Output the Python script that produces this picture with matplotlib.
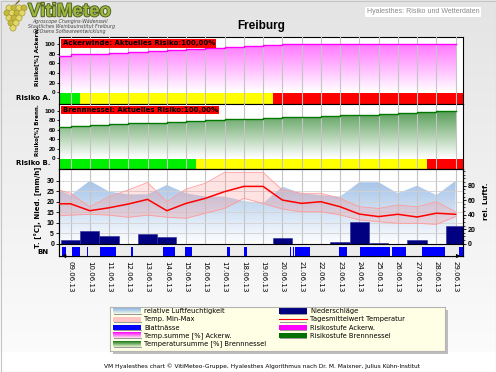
"""
VitiMeteo Hyalesthes-Diagramm Freiburg: Risiko Ackerwinde / Brennnessel und Wetterdaten.
Werte vom Bild abgelesen.
"""
import numpy as np
import matplotlib
matplotlib.use("Agg")
import matplotlib.pyplot as plt
import matplotlib.patheffects as pe
from matplotlib.patches import Rectangle, Circle
from matplotlib.colors import to_rgb, LinearSegmentedColormap
from matplotlib.ticker import FixedLocator

# ---------------- Daten ----------------
tage = ["09.06.13", "10.06.13", "11.06.13", "12.06.13", "13.06.13", "14.06.13",
        "15.06.13", "16.06.13", "17.06.13", "18.06.13", "19.06.13", "20.06.13",
        "21.06.13", "22.06.13", "23.06.13", "24.06.13", "25.06.13", "26.06.13",
        "27.06.13", "28.06.13", "29.06.13"]

# Zeit in Tagen ab 09.06.13 (erster Wert = Beginn der Reihe am 08.06.)
zeit = [-0.6, 0, 1, 2, 3, 4, 5, 6, 7, 8, 9, 10, 11, 12, 13, 14, 15, 16, 17, 18, 19, 20]

tsum_acker = [76, 78.5, 80.5, 82, 83.3, 85.4, 86.8, 88.9, 91, 93.5, 96.5, 98.5,
              100, 100, 100, 100, 100, 100, 100, 100, 100, 100]
tsum_brenn = [66, 67.6, 69.8, 71.2, 73.2, 74.6, 76, 77.5, 80.3, 81.7, 83, 85.2,
              86, 87.4, 89.5, 90.2, 91.6, 93, 94.5, 96.6, 98.7, 98.7]

tmittel = [19.0, 19.0, 15.7, 17.1, 18.9, 21.1, 15.7, 19.2, 21.6, 24.8, 27.3, 27.3,
           20.8, 19.2, 20.0, 17.6, 14.1, 12.9, 14.0, 12.7, 14.5, 14.0]
tmax = [25.6, 24.0, 17.6, 22.4, 25.6, 29.2, 20.0, 26.0, 28.8, 34.0, 34.0, 34.0,
        25.6, 24.0, 24.0, 21.6, 17.6, 16.8, 18.4, 17.6, 20.0, 15.2]
tmin = [13.3, 13.6, 14.0, 13.6, 12.6, 13.6, 12.6, 12.1, 14.5, 16.8, 21.6, 19.2,
        16.5, 15.2, 15.2, 13.7, 11.3, 10.5, 9.7, 9.7, 9.2, 12.9]
luftfeuchte = [74, 67, 86.5, 72, 68, 68, 81, 69.5, 65, 65, 59, 55.7,
               78.6, 69.5, 67, 65, 84.7, 84.7, 69.5, 80, 67, 86.5]

# Tagessumme Niederschlag, ein Balken pro Tag (09.06. .. 29.06.)
niederschlag = [1.7, 6.0, 3.7, 0, 4.6, 3.0, 0, 0, 0, 0, 0, 2.9, 0, 0, 0.6, 10.5,
                0.5, 0, 1.7, 0, 8.6]

# Blattnaesse: Beginn/Ende in Tagen ab 09.06.
bn_beginn = [-0.42, 0.10, 0.83, 1.52, 3.14, 4.82, 5.94, 8.11, 9.03, 11.40, 11.54,
             11.66, 13.95, 15.04, 16.69, 18.25, 20.16]
bn_ende = [-0.26, 0.48, 0.90, 2.34, 3.26, 5.42, 6.32, 8.28, 9.15, 11.46, 11.60,
           12.44, 14.35, 16.57, 17.44, 19.43, 20.4]

# Risikostufen (1 gruen, 2 gelb, 3 rot): Beginn jeder Stufe
risiko_a_beginn = [-0.6, 0.5, 10.5]
risiko_a_stufe = [1, 2, 3]
risiko_b_beginn = [-0.6, 6.5, 18.5]
risiko_b_stufe = [1, 2, 3]
ende = 20.4

RISIKO_FARBEN = {1: "#00ee00", 2: "#ffff00", 3: "#ff0000"}

W, H = 496, 372


def fx(x):
    return x / W


def fy(y):
    return 1 - y / H


def verlauf(ax, xs, ys, farbe, y_oben, a_max, z=1):
    # Flaeche mit Farbverlauf (oben Farbe, unten weiss)
    rgba = np.zeros((256, 1, 4))
    rgba[..., :3] = to_rgb(farbe)
    rgba[:, 0, 3] = np.linspace(0, a_max, 256)
    poly = ax.fill(np.r_[xs[0], xs, xs[-1]], np.r_[0, ys, 0],
                   facecolor="none", edgecolor="none")[0]
    im = ax.imshow(rgba, extent=[xs[0], xs[-1], 0, y_oben], origin="lower",
                   aspect="auto", zorder=z, interpolation="bilinear")
    im.set_clip_path(poly)


def ticks_fett(ax):
    for t in ax.get_yticklabels():
        t.set_fontweight("bold")
        t.set_family("Liberation Sans")


fig = plt.figure(figsize=(W / 100, H / 100), dpi=100)

# ---------------- Hintergrund / Logo ----------------
bg = fig.add_axes([0, 0, 1, 1], zorder=-10)
bg.set_xlim(0, W)
bg.set_ylim(H, 0)
bg.axis("off")
cmap_bg = LinearSegmentedColormap.from_list("bg", ["#e4e4e4", "#fbfbfb"])
bg.imshow(np.linspace(0, 1, 100)[:, None], cmap=cmap_bg, extent=[0, W, 352, 0],
          aspect="auto", vmin=0, vmax=1)
bg.add_patch(Rectangle((0.5, 0.5), W - 1, H - 1, fill=False, ec="#c4c4c4", lw=0.8))
# Schatten der Legende
bg.add_patch(Rectangle((112.5, 309.5), 335, 44.3, fc="#bdbdbd", ec="none"))

# Traube
for j, (yy, xs_) in enumerate([(8, [9, 14, 19, 24]), (13, [7, 12, 17, 22]),
                               (18, [9, 14, 19]), (23, [11, 16]), (28, [13])]):
    for k, xx in enumerate(xs_):
        bg.add_patch(Circle((xx, yy), 3.1, fc=["#e2d86a", "#c4b83e"][(j + k) % 2],
                            ec="#9c8e28", lw=0.4))
bg.plot([16, 19], [4, 1], color="#7a6a30", lw=1)

fig.text(fx(28), fy(16.3), "VitiMeteo", fontsize=13.5, fontweight="bold",
         family="Liberation Sans", color="#9ab83c", va="baseline",
         path_effects=[pe.withStroke(linewidth=1.3, foreground="#4e5c22")])
for txt, xc, yc in [("Agroscope Changins-Wädenswil", 70, 21.3),
                    ("Staatliches Weinbauinstitut Freiburg", 72, 26.6),
                    ("GEOsens Softwareentwicklung", 69, 32)]:
    fig.text(fx(xc), fy(yc), txt, fontsize=3.4, style="italic", color="#444444",
             ha="center", va="center")

fig.text(fx(261), fy(26), "Freiburg", fontsize=8.5, fontweight="bold",
         family="Liberation Sans", ha="center", va="center")
fig.text(fx(423), fy(11.7), "Hyalesthes: Risiko und Wetterdaten", fontsize=5,
         family="Liberation Sans", color="#8a8a8a", ha="center", va="center",
         bbox=dict(fc="white", ec="none", pad=1))

# ---------------- Panels ----------------
L, R = 59, 463.3


def panel(top, bottom):
    return fig.add_axes([fx(L), fy(bottom), (R - L) / W, (bottom - top) / H])


ax1 = panel(36.7, 103.5)
ax2 = panel(103.5, 169)
axw = panel(169, 256)

xs_step = np.repeat(zeit, 2)[1:]

for ax, tsum, farbe, gfarbe, a_max, rb, rs, titel in [
        (ax1, tsum_acker, "#ff00ff", "#ff00ff", 0.55, risiko_a_beginn, risiko_a_stufe,
         "Ackerwinde: Aktuelles Risiko:100,00%"),
        (ax2, tsum_brenn, "#007800", "#288228", 0.8, risiko_b_beginn, risiko_b_stufe,
         "Brennnessel: Aktuelles Risiko:100,00%")]:
    ys_step = np.repeat(tsum, 2)[:-1]
    verlauf(ax, xs_step, ys_step, gfarbe, 100, a_max)
    ax.step(zeit, tsum, where="post", color=farbe, lw=1.0, zorder=3)
    enden = rb[1:] + [ende]
    ax.broken_barh([(b, e - b) for b, e in zip(rb, enden)], (-23.5, 21.5),
                   facecolors=[RISIKO_FARBEN[s] for s in rs], zorder=2)
    ax.set_xlim(-0.6, ende)
    ax.set_ylim(-23.5, 115.5)
    ax.set_yticks(range(0, 101, 20))
    ax.set_xticks(range(len(tage)))
    ax.tick_params(axis="x", length=0, labelbottom=False)
    ax.tick_params(axis="y", labelsize=4.6, length=1.5, pad=1, width=0.6)
    ticks_fett(ax)
    ax.grid(axis="x", color="#c4c4c4", lw=0.8)
    ax.set_axisbelow(False)
    for s in ax.spines.values():
        s.set_linewidth(0.8)
    ax.text(0.009, 0.948, titel, transform=ax.transAxes, fontsize=5.0,
            fontweight="bold", va="top", ha="left", zorder=6,
            bbox=dict(boxstyle="square,pad=0.2", fc="#ff0000", ec="none"))

# Wetter: rel. Luftfeuchte auf axw (rechts), Temperatur/Niederschlag auf axt (links)
verlauf(axw, zeit, luftfeuchte, "#6fa0dc", 100, 0.72)
axw.set_xlim(-0.6, ende)
axw.set_ylim(-17, 103)
axt = axw.twinx()
axw.yaxis.tick_right()
axt.yaxis.tick_left()
axw.set_yticks(range(0, 81, 20))
axw.yaxis.set_minor_locator(FixedLocator(np.arange(0, 101, 5)))
axw.tick_params(axis="y", which="major", labelsize=5, length=2, pad=1.5, width=0.6)
axw.tick_params(axis="y", which="minor", length=1.2, width=0.5)
ticks_fett(axw)
axw.set_xticks(range(len(tage)))
axw.set_xticklabels(tage, rotation=-90, fontsize=5, va="top", ha="center")
axw.tick_params(axis="x", length=0, pad=3.5)
axw.grid(axis="x", color="#c4c4c4", lw=0.8)
axw.set_axisbelow(False)

axt.fill_between(zeit, tmin, tmax, color="#ff8c8c", alpha=0.25, lw=0, zorder=2)
axt.plot(zeit, tmax, color="#ff9a9a", lw=0.6, zorder=2)
axt.plot(zeit, tmin, color="#ff9a9a", lw=0.6, zorder=2)
axt.bar(range(len(niederschlag)), niederschlag, width=1.0, color="#000080",
        edgecolor="#2a2a9a", lw=0.4, zorder=3)
axt.plot(zeit, tmittel, color="#ff0000", lw=1.1, zorder=4)
axt.axhspan(-5.9, -0.6, color="#ececec", zorder=1, lw=0)
axt.broken_barh([(b, e - b) for b, e in zip(bn_beginn, bn_ende)], (-5.9, 4.5),
                facecolors="#0000ff", zorder=3)
axt.axhline(0, color="black", lw=0.8, zorder=5)
axt.set_ylim(-5.9, 35.6)
axt.set_yticks(range(0, 31, 5))
axt.tick_params(axis="y", labelsize=5, length=2, pad=1.5, width=0.6)
ticks_fett(axt)
axt.grid(axis="y", color="#d2d2d2", lw=0.6)
axt.set_axisbelow(True)
for a in (axw, axt):
    for s in a.spines.values():
        s.set_linewidth(0.8)
for x0, x1 in [(0.02, 0.0), (0.98, 1.0)]:
    axt.annotate("", xy=(x1, 0), xytext=(x0, 0), xycoords="axes fraction",
                 arrowprops=dict(arrowstyle="-|>", color="black", lw=0.8,
                                 mutation_scale=5), annotation_clip=False)

# Achsenbeschriftungen
lab = dict(fontsize=5, fontweight="bold", va="center")
fig.text(fx(37), fy(56), "Risiko[%] Ackerw.", rotation=90, ha="center",
         fontsize=4.2, fontweight="bold", va="center")
fig.text(fx(51), fy(98.5), "Risiko A.", ha="right", **lab)
fig.text(fx(37), fy(130), "Risiko[%] Brenn.", rotation=90, ha="center",
         fontsize=4.0, fontweight="bold", va="center")
fig.text(fx(51), fy(163.5), "Risiko B.", ha="right", **lab)
fig.text(fx(38.5), fy(207), "T. [°C], Nied. [mm/h]", rotation=90, ha="center", **lab)
fig.text(fx(49), fy(251.5), "BN", ha="right", **lab)
fig.text(fx(486), fy(201), "rel. Luftf.", rotation=90, ha="center", **lab)

# ---------------- Legende ----------------
leg_links = ["relative Luftfeuchtigkeit", "Temp. Min-Max", "Blattnässe",
             "Temp.summe [%] Ackerw.", "Temperatursumme [%] Brennnessel"]
leg_links_stil = [("grad", "#8cb6e8"), ("solid", "#ffc4c4"), ("solid", "#0000ff"),
                  ("grad", "#ff00ff"), ("grad", "#137a13")]
leg_rechts = ["Niederschläge", "Tagesmittelwert Temperatur", "Risikostufe Ackerw.",
              "Risikostufe Brennnessel"]
leg_rechts_stil = [("solid", "#000080"), ("line", "#ff0000"), ("solid", "#ff00ff"),
                   ("solid", "#007000")]

lg = fig.add_axes([fx(110), fy(351), 335 / W, 44.3 / H], zorder=5)
lg.set_facecolor("#ffffe6")
lg.set_xticks([])
lg.set_yticks([])
for s in lg.spines.values():
    s.set_color("#b4b4b4")
    s.set_linewidth(0.8)

for spalte, (texte, stile) in enumerate([(leg_links, leg_links_stil),
                                         (leg_rechts, leg_rechts_stil)]):
    x0 = 3.3 if spalte == 0 else 169
    for i, (txt, (art, farbe)) in enumerate(zip(texte, stile)):
        yc = 4.3 + 8.25 * i
        if art == "grad":
            rgba = np.zeros((32, 1, 4))
            rgba[..., :3] = to_rgb(farbe)
            rgba[:, 0, 3] = np.linspace(1.0, 0.1, 32)
            lg.imshow(rgba, extent=[x0, x0 + 27.7, yc + 2.6, yc - 2.6], origin="upper",
                      aspect="auto", interpolation="bilinear")
        elif art == "solid":
            lg.add_patch(Rectangle((x0, yc - 2.6), 27.7, 5.2, fc=farbe, ec="none"))
        else:
            lg.plot([x0, x0 + 27.7], [yc, yc], color=farbe, lw=0.8)
        lg.add_patch(Rectangle((x0 + 0.5, yc + 2.6), 27.7, 0.9, fc="#9a9a9a", ec="none"))
        lg.text(x0 + 31, yc, txt, fontsize=4.9, va="center", ha="left")
lg.set_xlim(0, 335)
lg.set_ylim(44.3, 0)

fig.text(fx(262), fy(366.5),
         "VM Hyalesthes chart © VitiMeteo-Gruppe, Hyalesthes Algorithmus nach "
         "Dr. M. Maixner, Julius Kühn-Institut",
         fontsize=4.2, ha="center", va="center")

fig.savefig("out.png", dpi=100)
